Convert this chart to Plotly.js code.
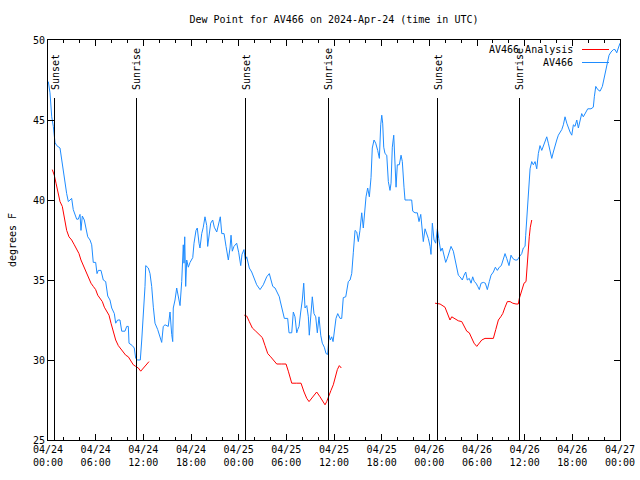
<!DOCTYPE html>
<html>
<head>
<meta charset="utf-8">
<script src="https://cdn.plot.ly/plotly-3.0.1.min.js"></script>
<style>html,body{margin:0;padding:0;background:#fff;}#chart{width:640px;height:480px;}
.shapelayer path{shape-rendering:crispEdges;}</style>
</head>
<body>
<div id="chart"></div>
<script>
// Hours since 2024-04-24 00:00 UTC
const obsHours = [0.04,0.25,0.47,0.67,0.88,1.10,1.51,1.72,1.93,2.14,2.35,2.56,2.77,2.98,3.18,3.40,3.61,3.81,4.03,4.15,4.32,4.57,4.75,5.00,5.29,5.50,5.70,6.00,6.17,6.33,6.67,6.96,7.26,7.52,7.80,8.02,8.35,8.52,8.77,9.06,9.28,9.69,9.91,10.11,10.20,10.61,10.86,11.04,11.29,11.62,11.80,12.00,12.21,12.30,12.63,12.84,13.05,13.26,13.47,13.81,14.31,14.51,14.73,15.14,15.36,15.57,15.70,15.77,15.99,16.20,16.40,16.62,16.83,17.03,17.12,17.21,17.33,17.46,17.66,17.88,18.22,18.38,18.63,18.79,19.01,19.13,19.35,19.55,19.76,19.98,20.10,20.30,20.48,20.73,20.93,21.24,21.53,21.69,21.87,22.16,22.41,22.70,22.91,23.04,23.20,23.41,23.75,24.01,24.26,24.42,24.67,24.84,25.01,25.18,25.34,25.64,25.93,26.27,26.69,27.10,27.53,27.86,28.07,28.29,28.58,28.86,29.12,29.20,29.49,29.75,30.17,30.34,30.68,30.88,31.09,31.31,31.43,31.60,31.81,32.01,32.19,32.35,32.57,32.77,32.89,33.11,33.27,33.48,33.70,33.90,34.11,34.33,34.53,34.78,35.00,35.21,35.37,35.54,35.71,35.88,36.04,36.25,36.47,36.76,36.97,37.17,37.48,37.60,37.80,38.02,38.23,38.43,38.65,38.86,39.06,39.27,39.49,39.69,39.90,40.03,40.24,40.45,40.66,40.82,41.04,41.25,41.50,41.71,41.88,42.01,42.13,42.26,42.42,42.64,42.84,43.05,43.18,43.34,43.52,43.68,43.81,43.97,44.22,44.44,44.60,44.81,44.94,45.35,45.78,45.91,46.20,46.49,46.70,46.92,47.04,47.24,47.46,47.67,47.87,48.09,48.21,48.38,48.59,48.80,49.01,49.18,49.43,49.63,49.85,50.06,50.26,50.48,50.73,51.02,51.23,51.45,51.65,51.86,52.15,52.37,52.58,52.78,53.03,53.25,53.46,53.66,53.88,54.09,54.29,54.51,54.80,55.05,55.30,55.55,55.77,56.06,56.31,56.56,56.81,57.06,57.31,57.53,57.74,58.03,58.28,58.50,58.79,59.08,59.33,59.63,59.83,60.05,60.13,60.26,60.46,60.68,60.89,61.09,61.31,61.52,61.72,61.93,62.15,62.48,62.78,62.98,63.19,63.41,63.61,63.82,64.04,64.24,64.45,64.67,64.87,65.08,65.30,65.50,65.71,65.93,66.13,66.34,66.56,66.76,66.97,67.18,67.38,67.60,67.94,68.35,68.64,68.77,68.95,69.20,69.49,69.78,70.03,70.24,70.46,70.62,70.87,71.16,71.38,71.59,71.79,72.00];
const obsDew = [47.4,46.7,45.2,44.6,43.6,43.4,43.25,42.5,41.6,41.1,40.4,39.9,40.0,40.1,39.4,39.1,38.8,38.8,39.1,38.1,39.0,38.75,38.25,37.7,37.5,37.2,36.1,36.1,35.4,35.6,35.6,35.0,34.9,34.0,33.75,33.25,32.9,32.3,32.5,32.5,31.8,31.8,32.1,32.1,31.05,30.9,30.75,30.1,30.0,30.0,31.25,32.7,34.6,35.9,35.75,35.4,34.6,33.3,32.3,31.9,31.1,32.1,32.2,32.1,33.0,31.6,31.15,33.25,33.75,34.5,33.95,33.4,34.9,37.2,36.05,37.7,34.6,36.25,35.8,36.1,36.4,37.3,38.1,38.25,37.3,37.0,37.9,38.3,38.95,38.4,37.1,37.9,38.55,38.75,38.3,38.0,38.55,38.95,37.9,37.9,37.1,36.25,37.0,37.8,36.8,37.1,37.3,36.7,35.9,36.6,36.9,36.25,36.45,36.1,35.75,35.5,35.1,34.7,34.4,34.7,35.2,35.4,35.0,34.6,34.5,34.2,33.95,33.75,33.1,32.6,32.6,31.7,31.7,33.0,32.7,31.7,31.9,32.1,33.0,33.75,34.8,33.25,33.4,32.7,31.55,32.9,33.95,32.9,32.7,31.7,32.7,31.55,31.05,30.8,30.4,30.35,31.55,31.25,31.45,31.15,31.8,32.6,32.9,32.6,32.6,33.9,33.95,34.4,34.9,35.0,35.4,36.7,38.1,38.0,37.4,38.1,39.2,38.25,39.5,40.2,40.75,40.2,41.4,43.25,43.75,43.55,43.1,42.6,44.7,45.3,44.8,43.3,42.9,42.8,41.15,40.6,41.05,43.3,44.05,41.45,40.8,42.2,42.2,42.8,42.4,40.8,40.0,40.0,40.0,39.3,39.2,39.2,38.65,39.1,38.3,37.4,38.2,37.9,37.6,37.1,36.6,38.55,37.5,37.3,38.2,37.6,36.8,37.0,36.45,36.1,36.35,36.65,37.1,36.8,36.25,35.8,35.3,35.2,35.0,35.3,35.5,35.0,35.1,34.8,35.2,34.9,34.8,34.6,34.4,34.8,34.85,34.8,34.4,34.9,35.3,35.5,35.8,35.6,35.8,35.9,36.25,36.65,36.35,35.9,36.55,36.35,36.25,36.25,36.45,36.65,37.0,37.1,37.8,38.85,40.3,41.95,42.4,42.2,42.4,41.95,42.9,43.4,43.1,43.55,43.95,43.55,43.0,42.6,43.0,43.3,43.75,44.05,44.25,44.4,44.7,45.2,44.8,44.5,44.25,44.05,44.7,44.6,45.0,44.5,45.0,45.4,45.2,45.4,45.7,45.7,45.8,46.45,47.1,46.9,46.8,47.1,47.7,48.2,48.65,49.05,49.25,49.4,49.4,49.2,49.5,49.8];

// Analysis runs (null separates runs)
const anaHours = [0.54,0.79,1.01,1.22,1.51,1.80,2.05,2.35,2.64,2.98,3.31,3.61,3.90,4.15,4.44,4.75,5.07,5.41,5.70,6.00,6.26,6.55,6.84,7.09,7.39,7.68,7.93,8.22,8.52,8.85,9.19,9.48,9.78,10.11,10.45,10.74,11.04,11.37,11.67,12.00,12.34,12.71,
  null,
  24.71,25.01,25.34,25.72,26.15,26.60,26.98,27.32,27.66,28.03,28.36,28.79,29.42,29.96,30.25,30.68,31.31,31.85,32.23,32.57,32.86,33.27,33.82,34.24,34.58,34.87,35.08,35.28,35.62,35.91,36.13,36.42,36.67,36.92,
  null,
  48.72,49.35,49.97,50.26,50.60,50.82,51.11,51.65,52.08,52.37,52.71,53.03,53.34,53.63,53.97,54.26,54.60,55.01,55.55,56.06,56.36,56.69,56.99,57.24,57.53,57.82,58.16,58.50,58.91,59.20,59.33,59.63,59.92,60.17,60.33,60.58,60.71,60.89];
const anaDew = [41.9,41.55,41.05,40.6,39.9,39.6,38.95,38.1,37.7,37.5,37.2,36.9,36.65,36.25,35.9,35.6,35.2,34.8,34.6,34.4,34.05,33.85,33.65,33.3,33.0,32.8,32.3,31.8,31.25,30.9,30.7,30.5,30.3,30.2,29.9,29.7,29.6,29.5,29.3,29.5,29.7,29.9,
  null,
  32.8,32.75,32.4,32.0,31.8,31.6,31.4,30.9,30.4,30.2,30.0,29.75,29.75,29.75,29.3,28.55,28.55,28.55,28.0,27.6,27.4,27.65,28.0,27.7,27.4,27.2,27.4,27.7,28.1,28.45,28.85,29.4,29.65,29.5,
  null,
  33.55,33.5,33.3,32.9,32.5,32.7,32.6,32.45,32.4,32.1,31.8,31.7,31.35,31.05,30.85,31.05,31.25,31.35,31.35,31.35,31.9,32.5,32.7,32.9,33.3,33.65,33.65,33.55,33.5,33.5,33.85,34.4,34.8,34.9,36.25,37.7,38.3,38.75];

const sunHours = [0.88, 11.08, 24.92, 35.25, 49.09, 59.29];
const sunLabels = ['Sunset','Sunrise','Sunset','Sunrise','Sunset','Sunrise'];

const seriesNames = ['AV466 Analysis', 'AV466'];
const seriesColors = ['#ff0000', '#1e8cff'];

const base = Date.UTC(2024, 3, 24, 0, 0, 0);
function toDate(h) {
  if (h === null) return null;
  return new Date(base + h * 3600000).toISOString().slice(0, 19).replace('T', ' ');
}

const font = {family: 'DejaVu Sans Mono, monospace', size: 10, color: '#000'};

const traces = [
  {x: anaHours.map(toDate), y: anaDew, type: 'scatter', mode: 'lines', name: seriesNames[0],
   line: {color: seriesColors[0], width: 1}, connectgaps: false, showlegend: false},
  {x: obsHours.map(toDate), y: obsDew, type: 'scatter', mode: 'lines', name: seriesNames[1],
   line: {color: seriesColors[1], width: 1}, showlegend: false}
];

const shapes = [];
const annotations = [];
sunHours.forEach((h, i) => {
  shapes.push({type: 'line', xref: 'x', yref: 'y', x0: toDate(h), x1: toDate(h), y0: 25, y1: 46.4,
    line: {color: '#000', width: 1}});
  annotations.push({xref: 'x', yref: 'y', x: toDate(h), y: 46.75, text: sunLabels[i], textangle: -90,
    showarrow: false, xanchor: 'center', yanchor: 'bottom', font: font});
});

// Legend (gnuplot style: text then line sample)
const legRows = [0.9755, 0.9445];
seriesNames.forEach((n, i) => {
  annotations.push({xref: 'paper', yref: 'paper', x: 0.922, y: legRows[i], text: n, showarrow: false,
    xanchor: 'right', yanchor: 'middle', font: font});
  shapes.push({type: 'line', xref: 'paper', yref: 'paper', x0: 0.933, x1: 0.981, y0: legRows[i], y1: legRows[i],
    line: {color: seriesColors[i], width: 1}});
});

const layout = {
  width: 640, height: 480,
  margin: {l: 48, r: 20, t: 40, b: 40},
  paper_bgcolor: '#fff', plot_bgcolor: '#fff',
  font: font,
  title: {text: 'Dew Point for AV466 on 2024-Apr-24 (time in UTC)', font: font,
    x: 0.5, xref: 'paper', xanchor: 'center', y: 1 - 19 / 480, yref: 'container', yanchor: 'middle'},
  xaxis: {
    type: 'date', range: [toDate(0), toDate(72)],
    tick0: toDate(0), dtick: 6 * 3600000, tickformat: '%m/%d<br>%H:%M',
    ticks: 'inside', ticklen: 6, tickcolor: '#000', tickwidth: 1,
    minor: {dtick: 2 * 3600000, ticks: 'inside', ticklen: 3, tickcolor: '#000', tickwidth: 1, showgrid: false},
    showline: true, linecolor: '#000', linewidth: 1, mirror: 'ticks',
    showgrid: false, zeroline: false, tickfont: font, automargin: false
  },
  yaxis: {
    range: [25, 50], tick0: 25, dtick: 5,
    ticks: 'inside', ticklen: 6, tickcolor: '#000', tickwidth: 1,
    showline: true, linecolor: '#000', linewidth: 1, mirror: 'ticks',
    showgrid: false, zeroline: false, tickfont: font, automargin: false,
    title: {text: 'degrees F', font: font, standoff: 14}
  },
  shapes: shapes,
  annotations: annotations
};

Plotly.newPlot('chart', traces, layout, {staticPlot: true, displayModeBar: false});
</script>
</body>
</html>
